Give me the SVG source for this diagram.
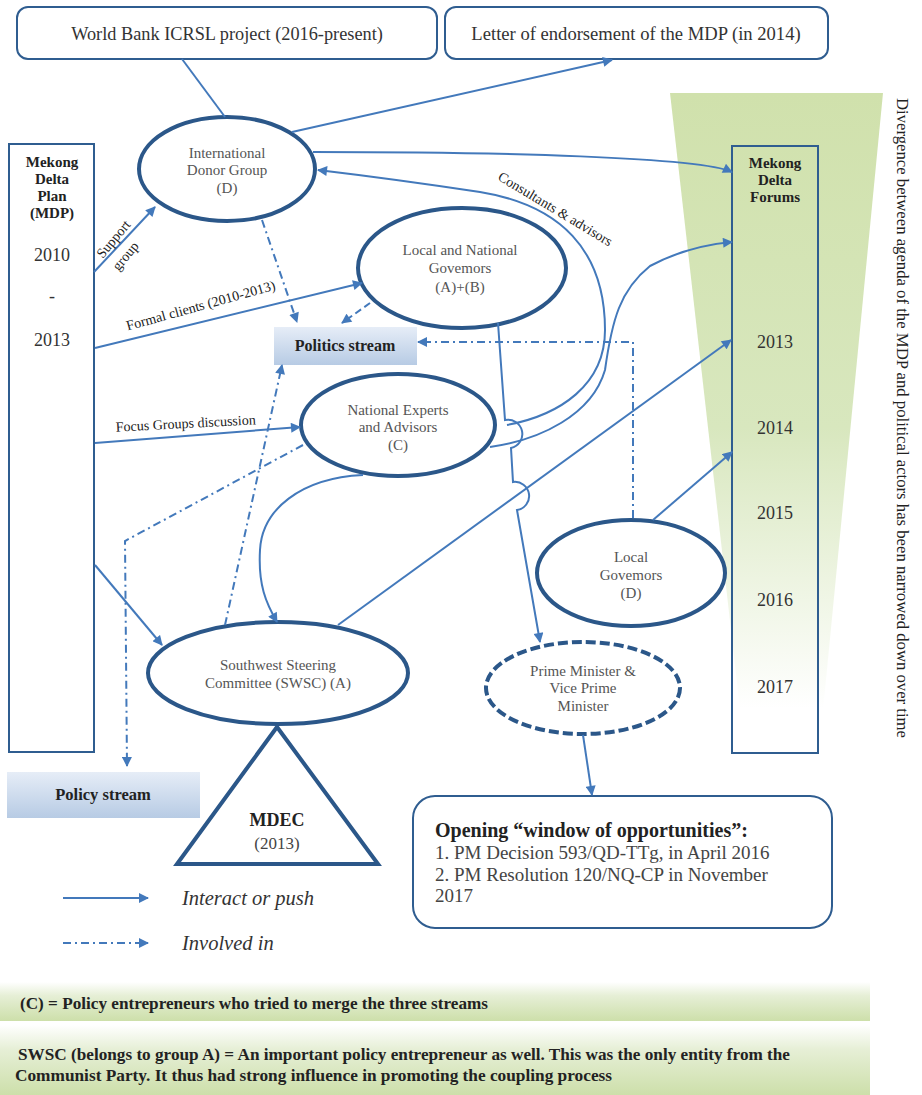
<svg xmlns="http://www.w3.org/2000/svg" width="922" height="1095" viewBox="0 0 922 1095">
<defs>
<linearGradient id="gTrap" x1="0" y1="0" x2="0" y2="1">
<stop offset="0" stop-color="#d0e1ac"/>
<stop offset="0.5" stop-color="#d8e7be"/>
<stop offset="0.92" stop-color="#ffffff"/>
</linearGradient>
<linearGradient id="gStream" x1="0" y1="0" x2="0" y2="1">
<stop offset="0" stop-color="#e6edf7"/>
<stop offset="1" stop-color="#b7cbe4"/>
</linearGradient>
<linearGradient id="gBand" x1="0" y1="0" x2="0" y2="1">
<stop offset="0" stop-color="#ffffff"/>
<stop offset="0.35" stop-color="#e6efd6"/>
<stop offset="1" stop-color="#cddfaa"/>
</linearGradient>
<marker id="ah" viewBox="0 0 10 10" refX="9" refY="5" markerWidth="11" markerHeight="10" markerUnits="userSpaceOnUse" orient="auto">
<path d="M0,0 L10,5 L0,10 Z" fill="#4379bb"/>
</marker>
<style>
.serif{font-family:"Liberation Serif","Times New Roman",serif}
.node{fill:#fff;stroke:#2b5789;stroke-width:4}
.box{fill:#fff;stroke:#2f5d90;stroke-width:2}
.lbl{font-family:"Liberation Serif","Times New Roman",serif;font-size:15px;fill:#555;text-anchor:middle}
.c{fill:none;stroke:#4379bb;stroke-width:2}
.arr{marker-end:url(#ah)}
.dd{stroke-dasharray:8,4,2,4}
.ds{stroke-dasharray:7,4}
.bold{font-family:"Liberation Serif","Times New Roman",serif;font-weight:bold;fill:#222}
.yr{font-family:"Liberation Serif","Times New Roman",serif;font-size:18px;fill:#333;text-anchor:middle}
.cl{font-family:"Liberation Serif","Times New Roman",serif;font-size:14px;fill:#222}
</style>
</defs>
<rect width="922" height="1095" fill="#fff"/>

<!-- green divergence funnel -->
<polygon points="670,93 883,93 818,762 746,762" fill="url(#gTrap)"/>
<text class="serif" font-size="17" fill="#222" transform="translate(897,98) rotate(90)" textLength="640" lengthAdjust="spacingAndGlyphs">Divergence between agenda of the MDP and political actors has been narrowed down over time</text>

<g id="worldbank">
<rect class="box" x="17" y="7" width="420" height="52" rx="11"/>
<text class="serif" x="227" y="40" font-size="18.3" fill="#333" text-anchor="middle">World Bank ICRSL project (2016-present)</text>
</g>
<g id="letter">
<rect class="box" x="445" y="7" width="383" height="52" rx="11"/>
<text class="serif" x="636" y="40" font-size="18.6" fill="#333" text-anchor="middle">Letter of endorsement of the MDP (in 2014)</text>
</g>

<g id="mdp">
<rect class="box" x="9" y="144" width="85" height="608" fill="none"/>
<text class="bold" font-size="15" text-anchor="middle"><tspan x="52" y="167">Mekong</tspan><tspan x="52" y="184">Delta</tspan><tspan x="52" y="201">Plan</tspan><tspan x="52" y="218">(MDP)</tspan></text>
<text class="yr" x="52" y="261">2010</text>
<text class="yr" x="52" y="302">-</text>
<text class="yr" x="52" y="346">2013</text>
</g>

<g id="forums">
<rect x="732" y="146" width="86" height="607" fill="none" stroke="#2f5d90" stroke-width="2"/>
<text class="bold" font-size="15" text-anchor="middle"><tspan x="775" y="168">Mekong</tspan><tspan x="775" y="185">Delta</tspan><tspan x="775" y="202">Forums</tspan></text>
<text class="yr" x="775" y="348">2013</text>
<text class="yr" x="775" y="434">2014</text>
<text class="yr" x="775" y="519">2015</text>
<text class="yr" x="775" y="606">2016</text>
<text class="yr" x="775" y="693">2017</text>
</g>

<g id="donor">
<ellipse class="node" cx="227" cy="169" rx="88" ry="52"/>
<text class="lbl"><tspan x="227" y="158">International</tspan><tspan x="227" y="175">Donor Group</tspan><tspan x="227" y="193">(D)</tspan></text>
</g>
<g id="lngov">
<ellipse class="node" cx="462" cy="268" rx="104" ry="60"/>
<text class="lbl"><tspan x="460" y="255">Local and National</tspan><tspan x="460" y="273">Govemors</tspan><tspan x="460" y="292">(A)+(B)</tspan></text>
</g>
<g id="natexp">
<ellipse class="node" cx="398" cy="425" rx="97" ry="51"/>
<text class="lbl"><tspan x="398" y="415">National Experts</tspan><tspan x="398" y="432">and Advisors</tspan><tspan x="398" y="450">(C)</tspan></text>
</g>
<g id="swsc">
<ellipse class="node" cx="278" cy="673" rx="130" ry="51" stroke-width="3.5"/>
<text class="lbl"><tspan x="278" y="670">Southwest Steering</tspan><tspan x="278" y="688">Committee (SWSC) (A)</tspan></text>
</g>
<g id="localgov">
<ellipse class="node" cx="631" cy="573" rx="94" ry="53"/>
<text class="lbl"><tspan x="631" y="562">Local</tspan><tspan x="631" y="580">Govemors</tspan><tspan x="631" y="598">(D)</tspan></text>
</g>
<g id="pm">
<ellipse class="node" cx="583" cy="688" rx="97" ry="46" stroke-dasharray="10,4"/>
<text class="lbl"><tspan x="583" y="676">Prime Minister &amp;</tspan><tspan x="583" y="693">Vice Prime</tspan><tspan x="583" y="711">Minister</tspan></text>
</g>
<g id="politics">
<rect x="274" y="327" width="143" height="38" fill="url(#gStream)"/>
<text class="bold" x="345" y="351" font-size="16" text-anchor="middle">Politics stream</text>
</g>
<g id="policy">
<rect x="7" y="772" width="193" height="46" fill="url(#gStream)"/>
<text class="bold" x="103" y="800" font-size="16.5" text-anchor="middle">Policy stream</text>
</g>
<g id="mdec">
<polygon points="277,727 177,864 378,864" fill="#fff" stroke="#2b5789" stroke-width="4" stroke-linejoin="miter"/>
<text class="bold" x="277" y="826" font-size="18" text-anchor="middle">MDEC</text>
<text class="serif" x="277" y="849" font-size="17" fill="#444" text-anchor="middle">(2013)</text>
</g>
<g id="opening">
<rect class="box" x="413" y="796" width="419" height="132" rx="22"/>
<text class="bold" x="435" y="837" font-size="20">Opening “window of opportunities”:</text>
<text class="serif" font-size="19" fill="#444"><tspan x="435" y="859">1. PM Decision 593/QD-TTg, in April 2016</tspan><tspan x="435" y="881">2. PM Resolution 120/NQ-CP in November</tspan><tspan x="435" y="902">2017</tspan></text>
</g>

<g id="connectors">
<path class="c" d="M182,59 L225,117"/>
<path class="c arr" d="M292,132 L612,60"/>
<path class="c arr" d="M313,152 C 500,152 700,157 732,172"/>
<path class="c arr" d="M507,425 C 560,415 605,385 605,330 C 605,250 560,205 480,192 C 420,183 360,175 318,170"/>
<path class="c arr" d="M490,447 C 540,440 592,415 605,370 C 612,320 620,290 650,266 C 680,250 710,244 732,242"/>
<path class="c arr" d="M94,272 L155,207"/>
<path class="c arr" d="M95,348 L362,283"/>
<path class="c arr" d="M95,443 L300,427"/>
<path class="c arr" d="M95,565 L162,645"/>
<path class="c arr" d="M363,475 C 300,478 262,510 260,550 C 258,585 266,603 277,622"/>
<path class="c arr" d="M338,625 L731,340"/>
<path class="c arr" d="M653,520 L732,452"/>
<path class="c arr" d="M498,323 L505,420 A 13,13 0 0 1 511,448 L513,482 A 14,14 0 0 1 517,510 L540,642"/>
<path class="c arr dd" d="M262,220 L297,322"/>
<path class="c arr ds" d="M370,303 L342,323"/>
<path class="c arr dd" d="M633,518 L633,342 L418,342"/>
<path class="c arr dd" d="M225,625 L282,365"/>
<path class="c arr dd" d="M303,445 L125,541 L127,766"/>
<path class="c arr" d="M583,735 L592,795"/>
</g>

<g id="edge-labels">
<text class="cl" font-size="15" transform="translate(117,242) rotate(-50)" text-anchor="middle">Support</text>
<text class="cl" font-size="15" transform="translate(129,259) rotate(-50)" text-anchor="middle">group</text>
<text class="cl" transform="translate(202,310) rotate(-15.5)" text-anchor="middle">Formal clients (2010-2013)</text>
<text class="cl" transform="translate(186,428) rotate(-3)" text-anchor="middle">Focus Groups discussion</text>
<text class="cl" transform="translate(553,213) rotate(31)" text-anchor="middle">Consultants &amp; advisors</text>
</g>

<g id="legend">
<path class="c arr" d="M63,898 L148,898"/>
<text class="serif" x="182" y="905" font-size="20.5" font-style="italic" fill="#333">Interact or push</text>
<path class="c arr dd" d="M63,943 L148,943"/>
<text class="serif" x="182" y="950" font-size="20.5" font-style="italic" fill="#333">Involved in</text>
</g>

<g id="notes">
<rect x="0" y="982" width="870" height="39" fill="url(#gBand)"/>
<rect x="0" y="1025" width="870" height="70" fill="url(#gBand)"/>
<text class="bold" x="20" y="1009" font-size="16.5" textLength="468" lengthAdjust="spacingAndGlyphs">(C) = Policy entrepreneurs who tried to merge the three streams</text>
<text class="bold" x="18" y="1060" font-size="16.5" textLength="772" lengthAdjust="spacingAndGlyphs">SWSC (belongs to group A) = An important policy entrepreneur as well. This was the only entity from the</text>
<text class="bold" x="15" y="1081" font-size="16.5" textLength="597" lengthAdjust="spacingAndGlyphs">Communist Party. It thus had strong influence in promoting the coupling process</text>
</g>
</svg>
